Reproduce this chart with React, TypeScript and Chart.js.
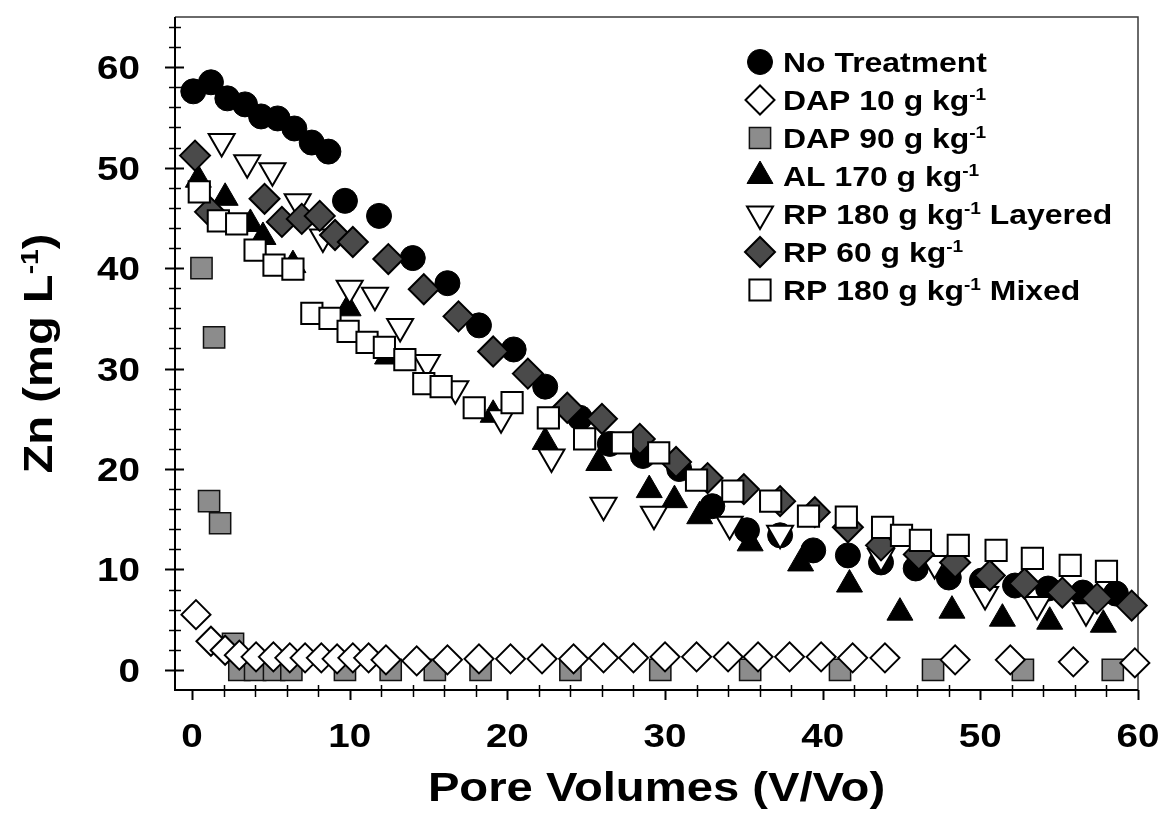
import React, { useEffect, useRef } from "react";
import { Chart, registerables } from "chart.js";
import { drawPoint } from "chart.js/helpers";

Chart.register(...registerables);

// ---------------- data ----------------
const noTreatX = [0.08, 1.2, 2.24, 3.36, 4.38, 5.43, 6.49, 7.59, 8.65, 9.7, 11.86, 14.0, 16.2, 18.2, 20.4, 22.4, 24.6, 26.5, 28.6, 30.9, 33.0, 35.2, 37.3, 39.4, 41.6, 43.7, 45.9, 48.0, 50.1, 52.2, 54.3, 56.5, 58.6];
const noTreatY = [57.6, 58.5, 56.9, 56.3, 55.1, 54.9, 53.9, 52.5, 51.6, 46.7, 45.2, 41.0, 38.5, 34.3, 31.9, 28.2, 25.1, 22.5, 21.3, 20.0, 16.3, 13.9, 13.4, 11.9, 11.4, 10.7, 10.1, 9.2, 8.9, 8.4, 8.1, 7.7, 7.6];

const dap10X = [0.25, 1.2, 2.1, 3.0, 4.06, 5.16, 6.2, 7.17, 8.2, 9.2, 10.2, 11.2, 12.3, 14.25, 16.2, 18.2, 20.2, 22.2, 24.2, 26.1, 28.0, 30.0, 32.0, 34.0, 35.9, 37.9, 39.9, 41.9, 43.95, 48.4, 51.9, 55.9, 59.8];
const dap10Y = [5.5, 2.85, 1.96, 1.47, 1.3, 1.3, 1.2, 1.2, 1.2, 1.1, 1.2, 1.2, 1.0, 0.9, 1.0, 1.1, 1.1, 1.1, 1.1, 1.2, 1.2, 1.3, 1.3, 1.3, 1.3, 1.3, 1.3, 1.2, 1.2, 1.0, 1.0, 0.8, 0.7];

const dap90X = [0.6, 1.08, 1.4, 1.78, 2.6, 3.0, 4.0, 5.2, 6.3, 9.7, 12.6, 15.4, 18.3, 24.0, 29.7, 35.4, 41.1, 47.0, 52.7, 58.4];
const dap90Y = [40.0, 16.8, 33.1, 14.6, 2.6, 0, 0, 0, 0, 0, 0, 0, 0, 0, 0, 0, 0, 0, 0, 0];

const al170X = [0.4, 2.1, 3.7, 4.5, 6.4, 9.9, 12.4, 19.1, 22.4, 25.8, 29.0, 30.6, 32.2, 35.4, 38.6, 41.7, 44.9, 48.2, 51.4, 54.4, 57.8];
const al170Y = [48.8, 47.0, 44.4, 43.1, 40.3, 36.0, 31.2, 25.4, 22.7, 20.6, 17.9, 16.9, 15.3, 12.6, 10.6, 8.5, 5.7, 5.9, 5.1, 4.8, 4.5];

const rpLayX = [1.88, 3.5, 5.1, 6.7, 8.3, 10.0, 11.6, 13.2, 14.9, 16.7, 19.6, 22.8, 26.1, 29.3, 34.1, 37.3, 43.7, 47.1, 50.3, 53.6, 56.7];
const rpLayY = [52.6, 50.5, 49.7, 46.6, 43.1, 38.0, 37.3, 34.2, 30.6, 28.0, 25.1, 21.2, 16.4, 15.5, 14.5, 13.6, 11.3, 10.6, 7.5, 6.5, 5.9];

const rp60X = [0.19, 1.14, 4.6, 5.7, 6.96, 8.1, 9.07, 10.2, 12.45, 14.7, 16.9, 19.1, 21.3, 23.8, 26.0, 28.4, 30.7, 32.7, 35.0, 37.3, 39.5, 41.6, 43.7, 46.1, 48.4, 50.6, 52.8, 55.2, 57.4, 59.6];
const rp60Y = [51.2, 45.6, 46.9, 44.6, 44.9, 45.2, 43.3, 42.6, 40.9, 37.9, 35.2, 31.7, 29.5, 26.1, 25.0, 23.0, 20.7, 19.1, 18.0, 16.8, 15.7, 14.2, 12.4, 11.5, 10.7, 9.4, 8.6, 7.7, 7.1, 6.4];

const rpMixX = [0.46, 1.67, 2.83, 4.0, 5.2, 6.4, 7.6, 8.75, 9.9, 11.1, 12.2, 13.5, 14.7, 15.8, 17.9, 20.3, 22.6, 24.9, 27.3, 29.6, 32.0, 34.3, 36.7, 39.1, 41.5, 43.8, 45.0, 46.2, 48.6, 51.0, 53.3, 55.7, 58.0];
const rpMixY = [47.6, 44.7, 44.4, 41.8, 40.3, 39.9, 35.5, 35.0, 33.7, 32.6, 32.1, 30.9, 28.5, 28.2, 26.1, 26.6, 25.1, 23.0, 22.6, 21.6, 18.9, 17.8, 16.8, 15.3, 15.2, 14.2, 13.4, 12.9, 12.4, 11.9, 11.1, 10.4, 9.8];

const xTickValues = [0, 10, 20, 30, 40, 50, 60];
const yTickValues = [0, 10, 20, 30, 40, 50, 60];
const xTitle = "Pore Volumes (V/Vo)";
const yTitleParts = [{ t: "Zn (mg L" }, { t: "-1", sup: true }, { t: ")" }];

const legendParts = [
  [{ t: "No Treatment" }],
  [{ t: "DAP 10 g kg" }, { t: "-1", sup: true }],
  [{ t: "DAP 90 g kg" }, { t: "-1", sup: true }],
  [{ t: "AL 170 g kg" }, { t: "-1", sup: true }],
  [{ t: "RP 180 g kg" }, { t: "-1", sup: true }, { t: " Layered" }],
  [{ t: "RP 60 g kg" }, { t: "-1", sup: true }],
  [{ t: "RP 180 g kg" }, { t: "-1", sup: true }, { t: " Mixed" }],
];

// ---------------- styles ----------------
const FONT = '"Liberation Sans", Arial, Helvetica, sans-serif';
const seriesStyles = [
  { style: "circle", radius: 12.5, rotation: 0, fill: "#000", stroke: "#000", bw: 1, order: 5 },
  { style: "rectRot", radius: 14.5, rotation: 0, fill: "#fff", stroke: "#000", bw: 2, order: 6 },
  { style: "rect", radius: 15, rotation: 0, fill: "#8c8c8c", stroke: "#111", bw: 1.5, order: 7 },
  { style: "triangle", radius: 15, rotation: 0, fill: "#000", stroke: "#000", bw: 1, order: 4 },
  { style: "triangle", radius: 15, rotation: 180, fill: "#fff", stroke: "#000", bw: 2, order: 3 },
  { style: "rectRot", radius: 15, rotation: 0, fill: "#4a4a4a", stroke: "#000", bw: 2, order: 2 },
  { style: "rect", radius: 15, rotation: 0, fill: "#fff", stroke: "#000", bw: 2, order: 1 },
];

function pts(xs: number[], ys: number[]) {
  return xs.map((x, i) => ({ x, y: ys[i] }));
}

function textWidth(ctx: CanvasRenderingContext2D, parts: any[], size: number, sx: number, supRatio: number) {
  let w = 0;
  for (const p of parts) {
    ctx.font = `bold ${p.sup ? size * supRatio : size}px ${FONT}`;
    w += ctx.measureText(p.t).width * sx;
  }
  return w;
}

function drawRich(ctx: CanvasRenderingContext2D, parts: any[], x: number, y: number, size: number, sx: number, supRatio = 0.6) {
  let cx = x;
  for (const p of parts) {
    const s = p.sup ? size * supRatio : size;
    ctx.font = `bold ${s}px ${FONT}`;
    const w = ctx.measureText(p.t).width;
    ctx.save();
    ctx.translate(cx, p.sup ? y - size * 0.36 : y);
    ctx.scale(sx, 1);
    ctx.textAlign = "left";
    ctx.textBaseline = "alphabetic";
    ctx.fillText(p.t, 0, 0);
    ctx.restore();
    cx += w * sx;
  }
  return cx - x;
}

const decorPlugin = {
  id: "decor",
  beforeDatasetsDraw(chart: any) {
    const { ctx, chartArea: a, scales } = chart;
    const xs = scales.x;
    const ys = scales.y;
    ctx.save();
    ctx.lineCap = "butt";
    ctx.strokeStyle = "#3a3a3a";
    ctx.lineWidth = 1.5;
    ctx.beginPath();
    ctx.moveTo(a.left, a.top);
    ctx.lineTo(a.right, a.top);
    ctx.lineTo(a.right, a.bottom);
    ctx.stroke();
    ctx.strokeStyle = "#000";
    ctx.lineWidth = 2;
    ctx.beginPath();
    ctx.moveTo(a.left, a.top);
    ctx.lineTo(a.left, a.bottom);
    ctx.lineTo(a.right, a.bottom);
    ctx.stroke();
    for (let v = 0; v <= 64; v += 2) {
      const py = Math.round(ys.getPixelForValue(v)) + 0.5;
      const major = v % 10 === 0;
      ctx.lineWidth = major ? 2 : 1.5;
      ctx.beginPath();
      ctx.moveTo(a.left - (major ? 10 : 6), py);
      ctx.lineTo(a.left + (major ? 9 : 6), py);
      ctx.stroke();
    }
    for (let v = 0; v <= 60; v += 2) {
      const px = Math.round(xs.getPixelForValue(v)) + 0.5;
      const major = v % 10 === 0;
      ctx.lineWidth = major ? 2 : 1.5;
      ctx.beginPath();
      ctx.moveTo(px, major ? a.bottom : a.bottom - 5);
      ctx.lineTo(px, major ? a.bottom + 10 : a.bottom + 7);
      ctx.stroke();
    }
    ctx.fillStyle = "#000";
    const tSize = 33, tSx = 1.17;
    for (const v of yTickValues) {
      const py = ys.getPixelForValue(v);
      const parts = [{ t: String(v) }];
      const w = textWidth(ctx, parts, tSize, tSx, 0.6);
      drawRich(ctx, parts, 140 - w, py + 12, tSize, tSx);
    }
    for (const v of xTickValues) {
      const px = xs.getPixelForValue(v);
      const parts = [{ t: String(v) }];
      const w = textWidth(ctx, parts, tSize, tSx, 0.6);
      drawRich(ctx, parts, px - w / 2, 747, tSize, tSx);
    }
    const aSize = 40, aSx = 1.18;
    const xt = [{ t: xTitle }];
    const xw = textWidth(ctx, xt, aSize, aSx, 0.6);
    drawRich(ctx, xt, (a.left + a.right) / 2 - xw / 2, 801, aSize, aSx);
    const yw = textWidth(ctx, yTitleParts, aSize, aSx, 0.6);
    ctx.save();
    ctx.translate(52, (a.top + a.bottom) / 2);
    ctx.rotate(-Math.PI / 2);
    drawRich(ctx, yTitleParts, -yw / 2, 0, aSize, aSx);
    ctx.restore();
    ctx.restore();
  },
  afterDatasetsDraw(chart: any) {
    const { ctx } = chart;
    ctx.save();
    const lSize = 28, lSx = 1.14;
    const rowY = [62, 100, 138, 176, 214, 252, 290];
    legendParts.forEach((parts, i) => {
      const s = seriesStyles[i];
      ctx.fillStyle = s.fill;
      ctx.strokeStyle = s.stroke;
      ctx.lineWidth = s.bw;
      drawPoint(ctx, { pointStyle: s.style, radius: s.radius, rotation: s.rotation, borderWidth: s.bw } as any, 760, rowY[i]);
      ctx.fillStyle = "#000";
      drawRich(ctx, parts, 783, rowY[i] + 10, lSize, lSx, 0.6);
    });
    ctx.restore();
  },
};

export default function App() {
  const ref = useRef<HTMLCanvasElement>(null);
  useEffect(() => {
    if (!ref.current) return;
    const series = [
      pts(noTreatX, noTreatY),
      pts(dap10X, dap10Y),
      pts(dap90X, dap90Y),
      pts(al170X, al170Y),
      pts(rpLayX, rpLayY),
      pts(rp60X, rp60Y),
      pts(rpMixX, rpMixY),
    ];
    const chart = new Chart(ref.current, {
      type: "scatter",
      data: {
        datasets: series.map((d, i) => {
          const s = seriesStyles[i];
          return {
            label: legendParts[i].map((p: any) => p.t).join(""),
            data: d,
            pointStyle: s.style as any,
            pointRadius: s.radius,
            pointRotation: s.rotation,
            backgroundColor: s.fill,
            borderColor: s.stroke,
            borderWidth: s.bw,
            order: s.order,
            clip: false as any,
          };
        }),
      },
      options: {
        animation: false,
        responsive: false,
        layout: { padding: { left: 175, right: 33, top: 14, bottom: 145 } },
        plugins: { legend: { display: false }, tooltip: { enabled: false } },
        scales: {
          x: { type: "linear", min: -1.08, max: 60, display: false },
          y: { type: "linear", min: -2, max: 65, display: false },
        },
      },
      plugins: [decorPlugin],
    });
    return () => chart.destroy();
  }, []);
  return (
    <div style={{ position: "fixed", left: 0, top: 0, width: 1171, height: 835, background: "#fff" }}>
      <canvas ref={ref} width={1171} height={835} />
    </div>
  );
}
